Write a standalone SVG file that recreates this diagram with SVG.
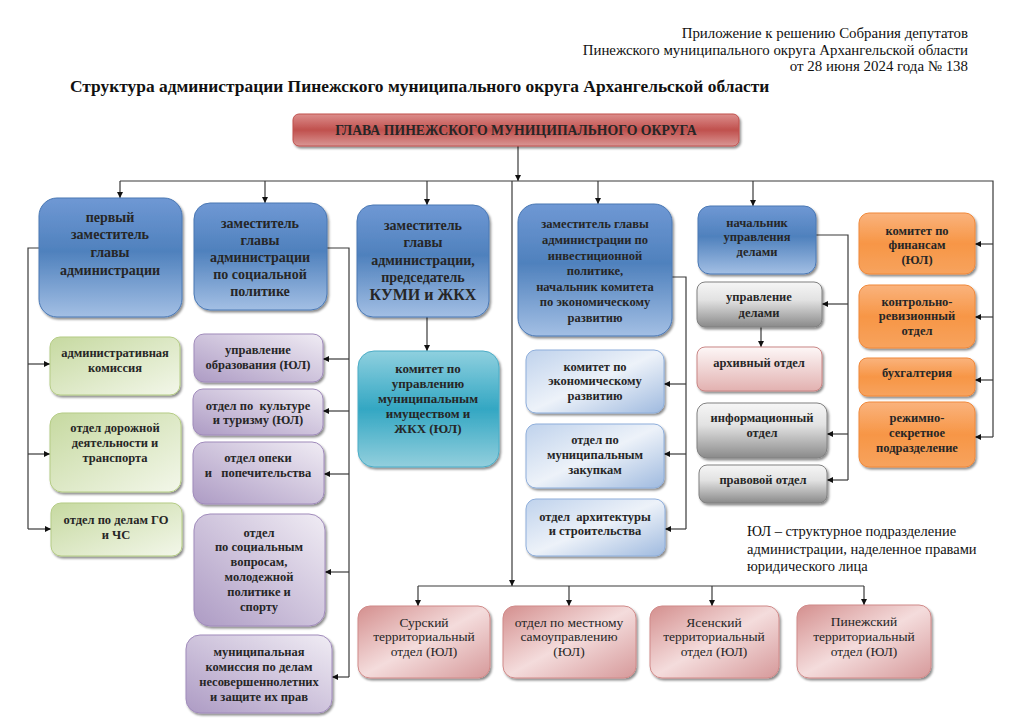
<svg xmlns="http://www.w3.org/2000/svg" width="1034" height="727" viewBox="0 0 1034 727">
<style>
text{font-family:"Liberation Serif","Times New Roman",serif;fill:#262626}
.hd{font-size:14.9px;text-anchor:end;fill:#111}
.ttl{font-size:17.4px;font-weight:bold;fill:#111}
.b{font-weight:bold;text-anchor:middle}
.s14{font-size:14px}
.s13{font-size:13px}
.s125{font-size:12.5px}
.r{text-anchor:middle;font-size:13.5px}
.lg{font-size:14.5px;fill:#111}
.ln{fill:none;stroke:#3a3a3a;stroke-width:1.2}
.ar{fill:none;stroke:#3a3a3a;stroke-width:1.2;marker-end:url(#ah)}
.box{filter:url(#sh)}
</style>
<defs>
<marker id="ah" viewBox="0 0 10 10" refX="10" refY="5" markerWidth="6" markerHeight="6" markerUnits="userSpaceOnUse" orient="auto"><path d="M0,0 L10,5 L0,10 z" fill="#111"/></marker>
<filter id="sh" x="-10%" y="-10%" width="125%" height="130%"><feDropShadow dx="1.5" dy="2" stdDeviation="1.2" flood-color="#000" flood-opacity="0.45"/></filter>
<linearGradient id="gBlue" x1="0" y1="0" x2="0" y2="1"><stop offset="0" stop-color="#6f98d4"/><stop offset="0.45" stop-color="#4f81bd"/><stop offset="1" stop-color="#a3bfe4"/></linearGradient>
<linearGradient id="gTop" x1="0" y1="0" x2="0" y2="1"><stop offset="0" stop-color="#dc8e8c"/><stop offset="0.5" stop-color="#c0504d"/><stop offset="1" stop-color="#d99694"/></linearGradient>
<linearGradient id="gTeal" x1="0" y1="0" x2="0" y2="1"><stop offset="0" stop-color="#8fd0df"/><stop offset="0.5" stop-color="#33a7c3"/><stop offset="1" stop-color="#93cfdd"/></linearGradient>
<linearGradient id="gOr" x1="0" y1="0" x2="0" y2="1"><stop offset="0" stop-color="#fab37d"/><stop offset="0.5" stop-color="#f79646"/><stop offset="1" stop-color="#f7a35e"/></linearGradient>
<linearGradient id="gGreen" x1="0" y1="0" x2="1" y2="1"><stop offset="0" stop-color="#c6d9a0"/><stop offset="1" stop-color="#f3f7ea"/></linearGradient>
<linearGradient id="gPur" x1="1" y1="0" x2="0" y2="1"><stop offset="0" stop-color="#f0ecf4"/><stop offset="1" stop-color="#ad9bc4"/></linearGradient>
<linearGradient id="gLb" x1="0" y1="0" x2="1" y2="1"><stop offset="0" stop-color="#bfd2ec"/><stop offset="0.5" stop-color="#edf2f9"/><stop offset="1" stop-color="#9fbadf"/></linearGradient>
<linearGradient id="gGray" x1="0" y1="0" x2="0" y2="1"><stop offset="0" stop-color="#f6f6f6"/><stop offset="0.4" stop-color="#e2e2e2"/><stop offset="1" stop-color="#8a8a8a"/></linearGradient>
<linearGradient id="gArc" x1="0" y1="0" x2="0" y2="1"><stop offset="0" stop-color="#fdf7f7"/><stop offset="1" stop-color="#e2b1b0"/></linearGradient>
<linearGradient id="gRed" x1="0" y1="0" x2="1" y2="1"><stop offset="0" stop-color="#d48f8e"/><stop offset="0.5" stop-color="#f4dcdc"/><stop offset="1" stop-color="#d6999a"/></linearGradient>
</defs>

<g id="header">
<text class="hd" x="968" y="38">Приложение к решению Собрания депутатов</text>
<text class="hd" x="968" y="55">Пинежского муниципального округа Архангельской области</text>
<text class="hd" x="968" y="71">от 28 июня 2024 года № 138</text>
<text class="ttl" x="70" y="92">Структура администрации Пинежского муниципального округа Архангельской области</text>
<text class="lg" x="747" y="536">ЮЛ – структурное подразделение</text>
<text class="lg" x="747" y="554">администрации, наделенное правами</text>
<text class="lg" x="747" y="571">юридического лица</text>
</g>

<g id="connectors">
<path class="ar" d="M518,146 V181"/>
<path class="ln" d="M120,181 H993 V437"/>
<path class="ar" d="M120,181 V198"/>
<path class="ar" d="M265,181 V203"/>
<path class="ar" d="M427,181 V205"/>
<path class="ar" d="M512,181 V586"/>
<path class="ar" d="M598,181 V204"/>
<path class="ar" d="M753,181 V206"/>
<path class="ln" d="M39,248 H28 V529"/>
<path class="ar" d="M28,364 H50"/>
<path class="ar" d="M28,454 H50"/>
<path class="ar" d="M28,529 H51"/>
<path class="ln" d="M327,248 H349 V677"/>
<path class="ar" d="M349,359 H323"/>
<path class="ar" d="M349,411 H323"/>
<path class="ar" d="M349,474 H324"/>
<path class="ar" d="M349,572 H325"/>
<path class="ar" d="M349,677 H332"/>
<path class="ar" d="M427,317 V351"/>
<path class="ln" d="M672,277 H686 V529"/>
<path class="ar" d="M686,384 H664"/>
<path class="ar" d="M686,454 H664"/>
<path class="ar" d="M686,529 H665"/>
<path class="ln" d="M816,235 H848 V480"/>
<path class="ar" d="M848,304 H822"/>
<path class="ar" d="M848,434 H827"/>
<path class="ar" d="M848,480 H827"/>
<path class="ar" d="M761,327 V347"/>
<path class="ar" d="M993,244 H975"/>
<path class="ar" d="M993,317 H975"/>
<path class="ar" d="M993,380 H975"/>
<path class="ar" d="M993,437 H975"/>
<path class="ln" d="M418,586 H864"/>
<path class="ar" d="M418,586 V606"/>
<path class="ar" d="M569,586 V606"/>
<path class="ar" d="M712,586 V606"/>
<path class="ar" d="M864,586 V605"/>
</g>

<g id="glava"><rect class="box" x="293" y="114" width="446" height="32" rx="6" fill="url(#gTop)" stroke="#c0504d"/>
<text class="b" font-size="13.75" x="516" y="134.5">ГЛАВА ПИНЕЖСКОГО МУНИЦИПАЛЬНОГО ОКРУГА</text></g>

<g id="dep1"><rect class="box" x="39" y="198" width="143" height="119" rx="18" fill="url(#gBlue)" stroke="#4a78b4"/>
<text class="b s14" x="110"><tspan x="110" y="222">первый</tspan><tspan x="110" y="239">заместитель</tspan><tspan x="110" y="257">главы</tspan><tspan x="110" y="275">администрации</tspan></text></g>

<g id="dep2"><rect class="box" x="194" y="203" width="133" height="107" rx="16" fill="url(#gBlue)" stroke="#4a78b4"/>
<text class="b s14" x="260"><tspan x="260" y="228">заместитель</tspan><tspan x="260" y="245">главы</tspan><tspan x="260" y="262">администрации</tspan><tspan x="260" y="279">по социальной</tspan><tspan x="260" y="296">политике</tspan></text></g>

<g id="dep3"><rect class="box" x="357" y="205" width="132" height="112" rx="16" fill="url(#gBlue)" stroke="#4a78b4"/>
<text class="b s14" x="423"><tspan x="423" y="230">заместитель</tspan><tspan x="423" y="247">главы</tspan><tspan x="423" y="265">администрации,</tspan><tspan x="423" y="282">председатель</tspan><tspan x="423" y="300" font-size="16">КУМИ и ЖКХ</tspan></text></g>

<g id="dep4"><rect class="box" x="518" y="204" width="154" height="132" rx="18" fill="url(#gBlue)" stroke="#4a78b4"/>
<text class="b s125" x="595"><tspan x="595" y="228">заместитель главы</tspan><tspan x="595" y="244">администрации по</tspan><tspan x="595" y="260">инвестиционной</tspan><tspan x="595" y="275">политике,</tspan><tspan x="595" y="291">начальник комитета</tspan><tspan x="595" y="306">по экономическому</tspan><tspan x="595" y="322">развитию</tspan></text></g>

<g id="dep5"><rect class="box" x="698" y="206" width="118" height="68" rx="12" fill="url(#gBlue)" stroke="#4a78b4"/>
<text class="b s125" x="757"><tspan x="757" y="227">начальник</tspan><tspan x="757" y="241">управления</tspan><tspan x="757" y="256">делами</tspan></text></g>

<g id="adm-kom"><rect class="box" x="50" y="337" width="130" height="58" rx="10" fill="url(#gGreen)" stroke="#b5cc85"/>
<text class="b s125" x="115"><tspan x="115" y="357">административная</tspan><tspan x="115" y="372">комиссия</tspan></text></g>
<g id="dor"><rect class="box" x="50" y="413" width="131" height="79" rx="12" fill="url(#gGreen)" stroke="#b5cc85"/>
<text class="b s125" x="115"><tspan x="115" y="432">отдел дорожной</tspan><tspan x="115" y="447">деятельности и</tspan><tspan x="115" y="462">транспорта</tspan></text></g>
<g id="go"><rect class="box" x="51" y="503" width="131" height="53" rx="10" fill="url(#gGreen)" stroke="#b5cc85"/>
<text class="b s125" x="116"><tspan x="116" y="524">отдел по делам ГО</tspan><tspan x="116" y="539">и ЧС</tspan></text></g>

<g id="obr"><rect class="box" x="194" y="334" width="129" height="48" rx="10" fill="url(#gPur)" stroke="#a08bbb"/>
<text class="b s125" x="258"><tspan x="258" y="354">управление</tspan><tspan x="258" y="369">образования (ЮЛ)</tspan></text></g>
<g id="kult"><rect class="box" x="193" y="389" width="130" height="46" rx="10" fill="url(#gPur)" stroke="#a08bbb"/>
<text class="b s125" x="258"><tspan x="258" y="410" xml:space="preserve">отдел по  культуре</tspan><tspan x="258" y="424">и туризму (ЮЛ)</tspan></text></g>
<g id="opeka"><rect class="box" x="193" y="442" width="131" height="62" rx="12" fill="url(#gPur)" stroke="#a08bbb"/>
<text class="b s125" x="258"><tspan x="258" y="462">отдел опеки</tspan><tspan x="258" y="477" xml:space="preserve">и   попечительства</tspan></text></g>
<g id="soc"><rect class="box" x="194" y="514" width="131" height="112" rx="16" fill="url(#gPur)" stroke="#a08bbb"/>
<text class="b s125" x="259"><tspan x="259" y="537">отдел</tspan><tspan x="259" y="551">по социальным</tspan><tspan x="259" y="566">вопросам,</tspan><tspan x="259" y="581">молодежной</tspan><tspan x="259" y="596">политике и</tspan><tspan x="259" y="611">спорту</tspan></text></g>
<g id="kdn"><rect class="box" x="186" y="635" width="146" height="78" rx="14" fill="url(#gPur)" stroke="#a08bbb"/>
<text class="b s125" x="259"><tspan x="259" y="656">муниципальная</tspan><tspan x="259" y="671">комиссия по делам</tspan><tspan x="259" y="686">несовершеннолетних</tspan><tspan x="259" y="701">и защите их прав</tspan></text></g>

<g id="kumi"><rect class="box" x="358" y="351" width="141" height="116" rx="16" fill="url(#gTeal)" stroke="#4bacc6"/>
<text class="b s13" x="428"><tspan x="428" y="373">комитет по</tspan><tspan x="428" y="388">управлению</tspan><tspan x="428" y="403">муниципальным</tspan><tspan x="428" y="418">имуществом и</tspan><tspan x="428" y="433">ЖКХ (ЮЛ)</tspan></text></g>

<g id="econ"><rect class="box" x="526" y="350" width="138" height="63" rx="10" fill="url(#gLb)" stroke="#8eaedb"/>
<text class="b s125" x="595"><tspan x="595" y="371">комитет по</tspan><tspan x="595" y="385">экономическому</tspan><tspan x="595" y="400">развитию</tspan></text></g>
<g id="zak"><rect class="box" x="526" y="424" width="138" height="64" rx="10" fill="url(#gLb)" stroke="#8eaedb"/>
<text class="b s125" x="595"><tspan x="595" y="444">отдел по</tspan><tspan x="595" y="459">муниципальным</tspan><tspan x="595" y="474">закупкам</tspan></text></g>
<g id="arch"><rect class="box" x="526" y="499" width="139" height="57" rx="10" fill="url(#gLb)" stroke="#8eaedb"/>
<text class="b s125" x="595"><tspan x="595" y="521" xml:space="preserve">отдел  архитектуры</tspan><tspan x="595" y="535">и строительства</tspan></text></g>

<g id="upr"><rect class="box" x="697" y="282" width="125" height="45" rx="8" fill="url(#gGray)" stroke="#808080"/>
<text class="b s125" x="759"><tspan x="759" y="301">управление</tspan><tspan x="759" y="317">делами</tspan></text></g>
<g id="arhiv"><rect class="box" x="697" y="347" width="125" height="44" rx="8" fill="url(#gArc)" stroke="#c98584"/>
<text class="b s125" x="759" y="367">архивный отдел</text></g>
<g id="info"><rect class="box" x="697" y="403" width="130" height="55" rx="10" fill="url(#gGray)" stroke="#808080"/>
<text class="b s125" x="762"><tspan x="762" y="422">информационный</tspan><tspan x="762" y="437">отдел</tspan></text></g>
<g id="prav"><rect class="box" x="699" y="465" width="128" height="38" rx="8" fill="url(#gGray)" stroke="#808080"/>
<text class="b s125" x="763" y="484">правовой отдел</text></g>

<g id="fin"><rect class="box" x="859" y="213" width="116" height="61" rx="10" fill="url(#gOr)" stroke="#f0883a"/>
<text class="b s125" x="917"><tspan x="917" y="235">комитет по</tspan><tspan x="917" y="249">финансам</tspan><tspan x="917" y="264">(ЮЛ)</tspan></text></g>
<g id="kro"><rect class="box" x="859" y="285" width="116" height="63" rx="10" fill="url(#gOr)" stroke="#f0883a"/>
<text class="b s125" x="917"><tspan x="917" y="306">контрольно-</tspan><tspan x="917" y="320">ревизионный</tspan><tspan x="917" y="335">отдел</tspan></text></g>
<g id="buh"><rect class="box" x="859" y="358" width="116" height="38" rx="8" fill="url(#gOr)" stroke="#f0883a"/>
<text class="b s125" x="917" y="377">бухгалтерия</text></g>
<g id="rsp"><rect class="box" x="859" y="402" width="116" height="65" rx="10" fill="url(#gOr)" stroke="#f0883a"/>
<text class="b s125" x="917"><tspan x="917" y="422">режимно-</tspan><tspan x="917" y="437">секретное</tspan><tspan x="917" y="452">подразделение</tspan></text></g>

<g id="sura"><rect class="box" x="358" y="606" width="132" height="72" rx="12" fill="url(#gRed)" stroke="#d08a89"/>
<text class="r" x="424"><tspan x="424" y="627">Сурский</tspan><tspan x="424" y="641">территориальный</tspan><tspan x="424" y="656">отдел (ЮЛ)</tspan></text></g>
<g id="msu"><rect class="box" x="503" y="606" width="133" height="72" rx="12" fill="url(#gRed)" stroke="#d08a89"/>
<text class="r" x="569"><tspan x="569" y="627">отдел по местному</tspan><tspan x="569" y="641">самоуправлению</tspan><tspan x="569" y="656">(ЮЛ)</tspan></text></g>
<g id="yasen"><rect class="box" x="650" y="606" width="129" height="72" rx="12" fill="url(#gRed)" stroke="#d08a89"/>
<text class="r" x="714"><tspan x="714" y="627">Ясенский</tspan><tspan x="714" y="641">территориальный</tspan><tspan x="714" y="656">отдел (ЮЛ)</tspan></text></g>
<g id="pinega"><rect class="box" x="797" y="605" width="134" height="73" rx="12" fill="url(#gRed)" stroke="#d08a89"/>
<text class="r" x="864"><tspan x="864" y="626">Пинежский</tspan><tspan x="864" y="641">территориальный</tspan><tspan x="864" y="656">отдел (ЮЛ)</tspan></text></g>
</svg>
